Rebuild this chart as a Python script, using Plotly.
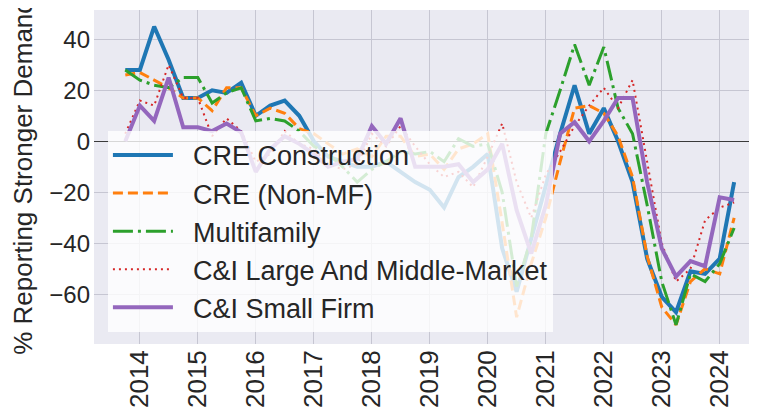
import pandas as pd
import plotly.graph_objects as go

# quarterly survey dates, 2013Q4 .. 2024Q2
DATES = pd.date_range('2013-10-01', periods=43, freq='QS')

CRE_CONSTRUCTION = [28, 28, 45, 32, 17, 17, 20, 19, 23, 10, 14, 16, 10, 0, -6,
                    -8, -10, -10, -8, -12, -16, -19, -26, -14, -10, -5, -42, -59, -38, -17,
                    3, 22, 3, 13, 0, -16, -46, -61, -67, -51, -52, -46, -16]
CRE_NON_MF = [26, 27, 24, 21, 17, 17, 12, 21, 21, 10, 13, 11, 5, 3, -1,
              -5, -3, -6, 2, 2, -6, -5, -11, -3, -1, 3, -32, -69, -48, -30,
              -8, 13, 14, 11, 2, -14, -45, -65, -72, -55, -50, -52, -30]
MULTIFAMILY = [28, 24, 22, 21, 25, 25, 15, 19, 21, 8, 9, 8, 4, -2, -5,
               -10, -16, -11, -8, -4, -5, -4, -8, 1, -2, -1, -20, -57, -38, 3,
               20, 38, 22, 37, 13, 3, -25, -55, -72, -52, -55, -48, -34]
CI_LARGE_MID = [3, 16, 14, 30, 17, 17, 2, 9, 4, -8, -5, 4, -1, -3, -9,
                -11, -9, 3, -2, 6, -2, -9, -14, -12, -18, -6, 7, -16, -30, -13,
                -4, 6, 14, 21, 13, 24, -8, -40, -55, -50, -31, -26, -24]
CI_SMALL = [0, 14, 8, 25, 5.5, 5.5, 4, 7, 3.5, -12, -3, 2, -1, -5, -10,
            -8, -7, 6, -1, 9, -10, -10, -10, -9, -16, -11, -1, -27, -44, -25,
            3, 7.5, 0, 8, 17, 17, -16, -42, -53, -47, -49, -22, -23]

SERIES = [
    ('CRE Construction', CRE_CONSTRUCTION, '#1f77b4', 'solid', 4),
    ('CRE (Non-MF)', CRE_NON_MF, '#ff7f0e', '10px,5px', 3),
    ('Multifamily', MULTIFAMILY, '#2ca02c', '20px,5px,3px,5px', 3),
    ('C&I Large And Middle-Market', CI_LARGE_MID, '#d62728', '2px,4px', 2),
    ('C&I Small Firm', CI_SMALL, '#9467bd', 'solid', 4),
]

FONT = 'Liberation Sans, Arial, sans-serif'
GRID = '#c6c6d2'
PAD = '\u00a0\u00a0'  # a bit more room between legend line and label


def make_plot():
    fig = go.Figure()
    for name, vals, color, dash, width in SERIES:
        fig.add_trace(go.Scatter(
            x=DATES, y=vals, name=PAD + name, mode='lines',
            line=dict(color=color, dash=dash, width=width),
        ))

    # the page body adds an 8px offset, so margins are shifted to compensate
    fig.update_layout(
        width=757, height=414,
        margin=dict(l=86, r=8, t=2, b=78),
        plot_bgcolor='#EAEAF2',
        paper_bgcolor='white',
        font=dict(family=FONT, size=24, color='#262626'),
        legend=dict(
            x=0.021, y=0.638, xanchor='left', yanchor='top',
            bgcolor='rgba(255,255,255,0.8)',
            font=dict(size=27),
            itemwidth=60,
        ),
        xaxis=dict(
            type='date',
            range=['2013-03-18', '2024-08-23'],
            tick0='2014-01-01', dtick='M12', tickformat='%Y',
            tickangle=-90, tickfont=dict(size=26),
            gridcolor=GRID, showline=False, zeroline=False,
            ticks='', automargin=False,
        ),
        yaxis=dict(
            range=[-79.5, 51.5], dtick=20,
            gridcolor=GRID, showline=False,
            zeroline=True, zerolinecolor='#3a3a3a', zerolinewidth=1,
            title=dict(text='% Reporting Stronger Demand', standoff=12,
                       font=dict(size=26)),
            ticks='', ticklabelstandoff=3, automargin=False,
        ),
    )
    return fig


def main():
    fig = make_plot()
    fig.write_html('out.html')


if __name__ == '__main__':
    main()
